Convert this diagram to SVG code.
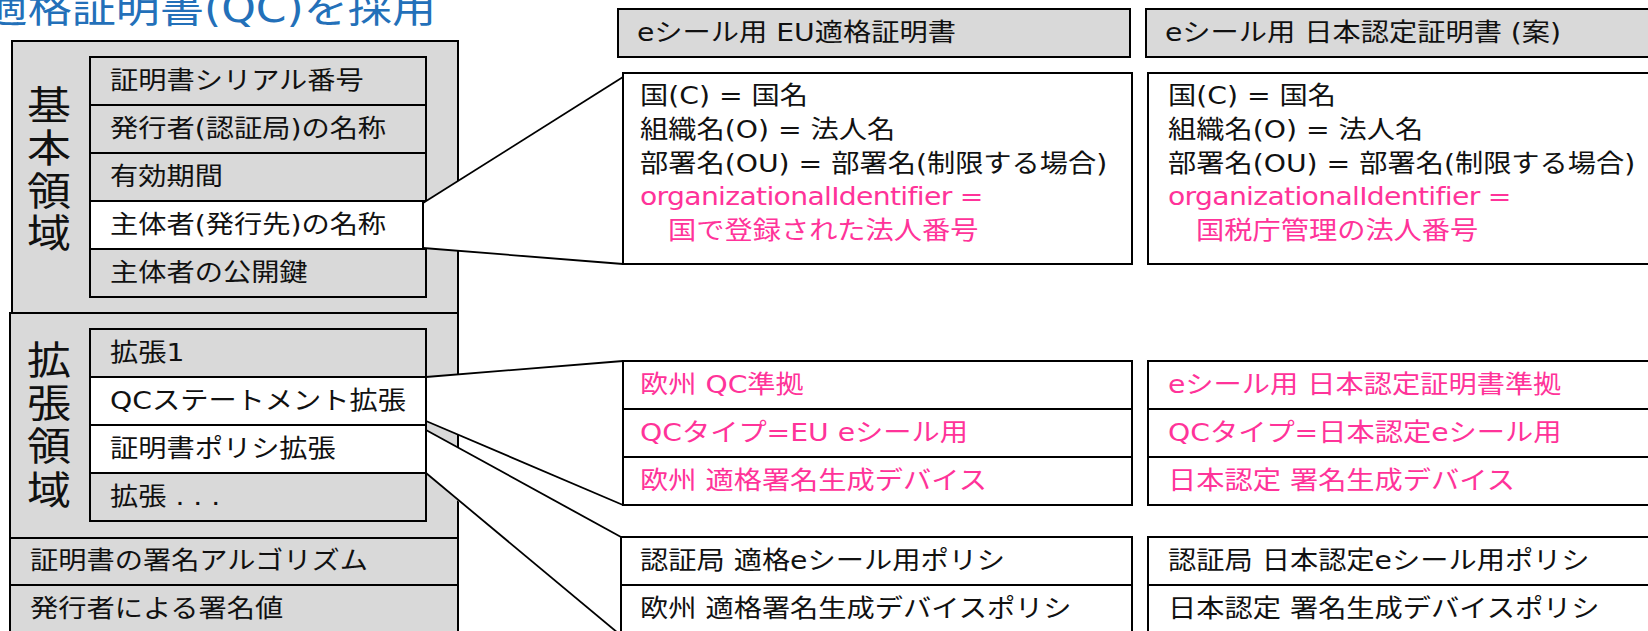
<svg xmlns="http://www.w3.org/2000/svg" width="1648" height="631" viewBox="0 0 1648 631">
<style>
text{font-family:"DejaVu Sans","Noto Sans CJK JP",sans-serif;fill:#111;}
.s{font-size:25px;transform:scaleX(1.13);transform-box:fill-box;transform-origin:0 0;}
.v{font-size:39px;text-anchor:middle;transform:scaleX(1.13);transform-box:fill-box;transform-origin:50% 0;}
.ttl{font-size:39px;fill:#2370B9;text-anchor:end;transform:scaleX(1.13);transform-box:fill-box;transform-origin:100% 0;}
.pk{fill:#FF3399;}
.lat{letter-spacing:-0.6px;}
.g{fill:#D9D9D9;stroke:#000;stroke-width:2;}
.w{fill:#FFFFFF;stroke:#000;stroke-width:2;}
.cf{fill:#FFFFFF;stroke:none;}
.cl{stroke:#000;stroke-width:1.8;fill:none;}
</style>

<g id="title">
<text class="ttl" x="436" y="22">適格証明書(QC)を採用</text>
</g>

<g id="basic-region">
<rect class="g" x="12" y="41" width="446" height="272"/>
<text class="v"><tspan x="49" y="119">基</tspan><tspan x="49" y="162">本</tspan><tspan x="49" y="205">領</tspan><tspan x="49" y="247">域</tspan></text>
</g>
<g id="serial"><rect class="g" x="90" y="57" width="336" height="48"/><text class="s" x="110" y="89">証明書シリアル番号</text></g>
<g id="issuer"><rect class="g" x="90" y="105" width="336" height="48"/><text class="s" x="110" y="137">発行者(認証局)の名称</text></g>
<g id="validity"><rect class="g" x="90" y="153" width="336" height="48"/><text class="s" x="110" y="185">有効期間</text></g>
<g id="public-key"><rect class="g" x="90" y="249" width="336" height="48"/><text class="s" x="110" y="281">主体者の公開鍵</text></g>

<g id="ext-region">
<rect class="g" x="10" y="313" width="448" height="225"/>
<text class="v"><tspan x="49" y="374">拡</tspan><tspan x="49" y="417">張</tspan><tspan x="49" y="460">領</tspan><tspan x="49" y="504">域</tspan></text>
</g>
<g id="ext1"><rect class="g" x="90" y="329" width="336" height="48"/><text class="s" x="110" y="361">拡張1</text></g>
<g id="ext-more"><rect class="g" x="90" y="473" width="336" height="48"/><text class="s" x="110" y="505">拡張 . . .</text></g>
<g id="sig-alg"><rect class="g" x="10" y="538" width="448" height="47"/><text class="s" x="30" y="569">証明書の署名アルゴリズム</text></g>
<g id="sig-value"><rect class="g" x="10" y="585" width="448" height="52"/><text class="s" x="30" y="617">発行者による署名値</text></g>

<g id="connectors">
<polygon class="cf" points="423,203 623,77 623,264 423,248"/>
<polygon class="cf" points="426,377 623,361 623,505 426,421"/>
<polygon class="cf" points="426,430 621,537 617,640 426,473"/>
<line class="cl" x1="423" y1="203" x2="623" y2="77"/>
<line class="cl" x1="423" y1="248" x2="623" y2="264"/>
<line class="cl" x1="426" y1="377" x2="623" y2="361"/>
<line class="cl" x1="426" y1="421" x2="623" y2="505"/>
<line class="cl" x1="426" y1="430" x2="621" y2="537"/>
<line class="cl" x1="426" y1="473" x2="618" y2="633"/>
</g>

<g id="subject"><rect class="w" x="90" y="201" width="333" height="48"/><text class="s" x="110" y="233">主体者(発行先)の名称</text></g>
<g id="qc-statement"><rect class="w" x="90" y="377" width="336" height="48"/><text class="s" x="110" y="409">QCステートメント拡張</text></g>
<g id="cert-policy"><rect class="w" x="90" y="425" width="336" height="48"/><text class="s" x="110" y="457">証明書ポリシ拡張</text></g>

<g id="eu-header"><rect class="g" x="618" y="9" width="512" height="48"/><text class="s" x="637" y="41">eシール用 EU適格証明書</text></g>
<g id="jp-header"><rect class="g" x="1146" y="9" width="520" height="48"/><text class="s" x="1165" y="41">eシール用 日本認定証明書 (案)</text></g>

<g id="eu-subject">
<rect class="w" x="623" y="73" width="509" height="191"/>
<text class="s" x="640" y="104">国(C) = 国名</text>
<text class="s" x="640" y="138">組織名(O) = 法人名</text>
<text class="s" x="640" y="172">部署名(OU) = 部署名(制限する場合)</text>
<text class="s pk lat" x="640" y="205">organizationalIdentifier =</text>
<text class="s pk" x="668" y="239">国で登録された法人番号</text>
</g>
<g id="jp-subject">
<rect class="w" x="1148" y="73" width="520" height="191"/>
<text class="s" x="1168" y="104">国(C) = 国名</text>
<text class="s" x="1168" y="138">組織名(O) = 法人名</text>
<text class="s" x="1168" y="172">部署名(OU) = 部署名(制限する場合)</text>
<text class="s pk lat" x="1168" y="205">organizationalIdentifier =</text>
<text class="s pk" x="1196" y="239">国税庁管理の法人番号</text>
</g>

<g id="eu-qc">
<rect class="w" x="623" y="361" width="509" height="48"/>
<rect class="w" x="623" y="409" width="509" height="48"/>
<rect class="w" x="623" y="457" width="509" height="48"/>
<text class="s pk" x="640" y="393">欧州 QC準拠</text>
<text class="s pk" x="640" y="441">QCタイプ=EU eシール用</text>
<text class="s pk" x="640" y="489">欧州 適格署名生成デバイス</text>
</g>
<g id="jp-qc">
<rect class="w" x="1148" y="361" width="520" height="48"/>
<rect class="w" x="1148" y="409" width="520" height="48"/>
<rect class="w" x="1148" y="457" width="520" height="48"/>
<text class="s pk" x="1168" y="393">eシール用 日本認定証明書準拠</text>
<text class="s pk" x="1168" y="441">QCタイプ=日本認定eシール用</text>
<text class="s pk" x="1168" y="489">日本認定 署名生成デバイス</text>
</g>

<g id="eu-policy">
<rect class="w" x="621" y="537" width="511" height="48"/>
<rect class="w" x="621" y="585" width="511" height="60"/>
<text class="s" x="640" y="569">認証局 適格eシール用ポリシ</text>
<text class="s" x="640" y="617">欧州 適格署名生成デバイスポリシ</text>
</g>
<g id="jp-policy">
<rect class="w" x="1148" y="537" width="520" height="48"/>
<rect class="w" x="1148" y="585" width="520" height="60"/>
<text class="s" x="1168" y="569">認証局 日本認定eシール用ポリシ</text>
<text class="s" x="1168" y="617">日本認定 署名生成デバイスポリシ</text>
</g>
</svg>
